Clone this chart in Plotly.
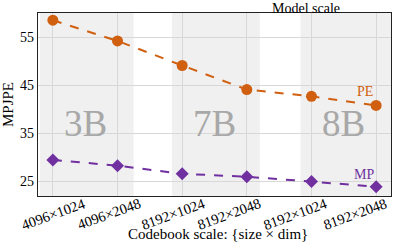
import plotly.graph_objects as go

categories = ["4096×1024", "4096×2048", "8192×1024", "8192×2048", "8192×1024", "8192×2048"]
pe_values = [58.5, 54.2, 49.1, 44.1, 42.7, 40.8]
mp_values = [29.5, 28.3, 26.6, 26.0, 25.0, 23.9]
model_groups = ["3B", "7B", "8B"]
group_spans = [(-0.2, 1.25), (1.84, 3.2), (3.83, 5.25)]
y_ticks = [25, 35, 45, 55]

FONT = "Liberation Serif, Times New Roman, Times, serif"
ORANGE = "#d05f10"
PURPLE = "#7030a0"

x = list(range(len(categories)))

fig = go.Figure()
fig.add_trace(go.Scatter(
    x=x, y=pe_values, mode="lines+markers", name="PE",
    line=dict(color=ORANGE, width=2, dash="dash"),
    marker=dict(symbol="circle", size=11, color=ORANGE),
))
fig.add_trace(go.Scatter(
    x=x, y=mp_values, mode="lines+markers", name="MP",
    line=dict(color=PURPLE, width=2, dash="dash"),
    marker=dict(symbol="diamond", size=10, color=PURPLE),
))

shapes = []
for (a, b) in group_spans:
    shapes.append(dict(type="rect", xref="x", yref="paper", x0=a, x1=b, y0=0, y1=1,
                       fillcolor="#f0f0f0", line=dict(width=0), layer="below"))

annotations = []
for i, g in enumerate(model_groups):
    annotations.append(dict(x=2 * i + 0.5, y=37.0, xref="x", yref="y", text=g,
                            showarrow=False, font=dict(family=FONT, size=37, color="#a8a8a8"),
                            xanchor="center", yanchor="middle"))

label_shift = [1, -9, -9, -18, -16, -21]
for i, c in enumerate(categories):
    annotations.append(dict(x=i, y=0, xref="x", yref="paper", text=c, textangle=-20,
                            showarrow=False, font=dict(family=FONT, size=14.5, color="black"),
                            xanchor="center", yanchor="middle", xshift=label_shift[i], yshift=-18))

annotations.append(dict(x=4.83, y=43.6, xref="x", yref="y", text="PE", showarrow=False,
                        font=dict(family=FONT, size=14, color=ORANGE)))
annotations.append(dict(x=4.81, y=26.4, xref="x", yref="y", text="MP", showarrow=False,
                        font=dict(family=FONT, size=14, color=PURPLE)))
annotations.append(dict(x=0.861, y=1, xref="paper", yref="paper", text="Model scale",
                        showarrow=False, yanchor="bottom", yshift=-5,
                        font=dict(family=FONT, size=14, color="black")))
annotations.append(dict(x=0.51, y=0, xref="paper", yref="paper", text="Codebook scale: {size × dim}",
                        showarrow=False, yanchor="middle", yshift=-38,
                        font=dict(family=FONT, size=15, color="black")))

fig.update_layout(
    width=393, height=243,
    margin=dict(l=38, r=2, t=13, b=47),
    plot_bgcolor="white", paper_bgcolor="white",
    showlegend=False,
    font=dict(family=FONT, size=14, color="black"),
    shapes=shapes, annotations=annotations,
)
fig.update_xaxes(
    range=[-0.23, 5.23], tickvals=x, showticklabels=False, ticks="",
    showgrid=True, gridcolor="#d8d8d8", gridwidth=1, zeroline=False,
    showline=True, linecolor="#222", linewidth=1.2, mirror=True,
)
fig.update_yaxes(
    range=[22, 60], tickvals=y_ticks, ticks="",
    showgrid=True, gridcolor="#d8d8d8", gridwidth=1, zeroline=False,
    showline=True, linecolor="#222", linewidth=1.2, mirror=True, automargin=False,
    tickfont=dict(family=FONT, size=14),
    title=dict(text="MPJPE", font=dict(family=FONT, size=15), standoff=3),
)

fig.write_html("out.html", config={"displayModeBar": False},
               post_script="document.body.style.margin='0';document.body.style.overflow='hidden';")
